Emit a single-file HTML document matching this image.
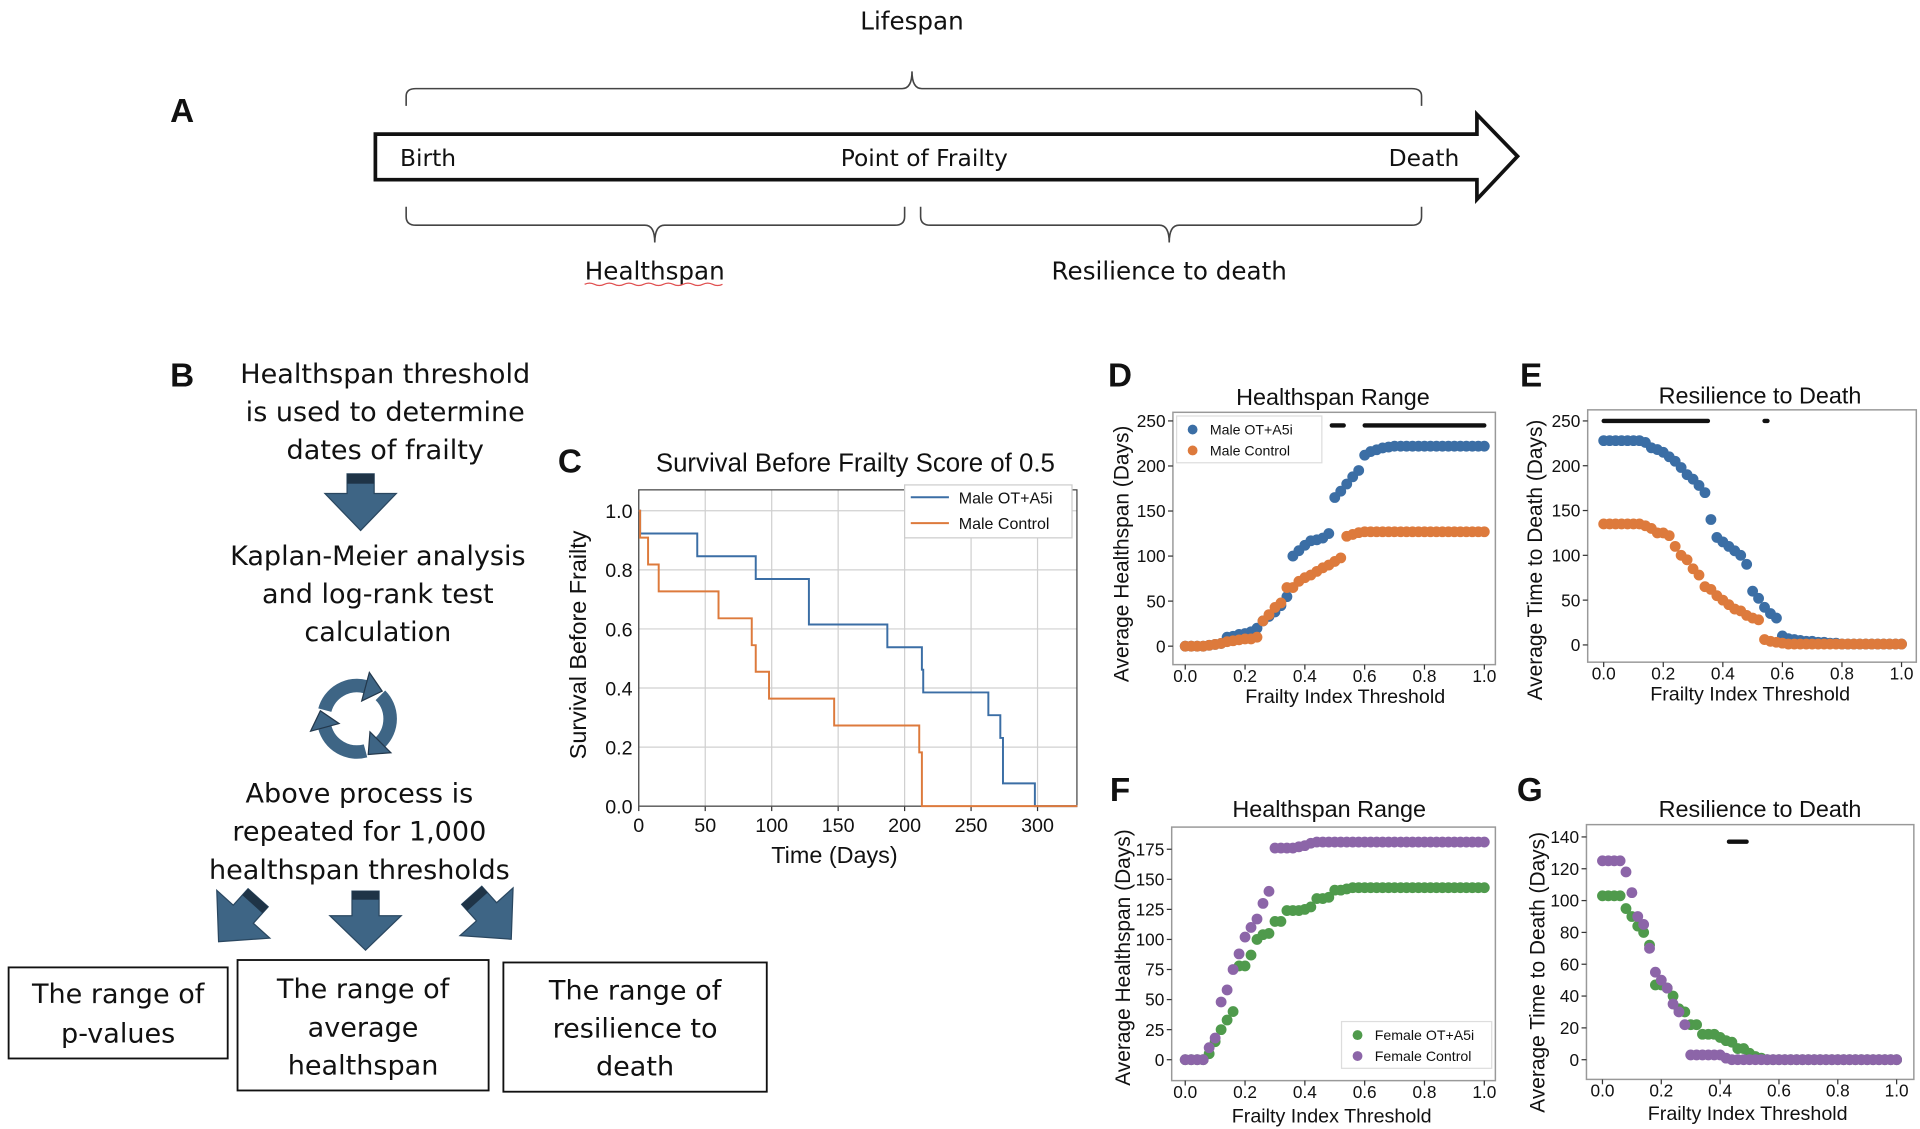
<!DOCTYPE html>
<html><head><meta charset="utf-8"><style>
html,body{margin:0;padding:0;background:#fff;}
svg{display:block;}
text{font-family:"Liberation Sans",sans-serif;fill:#111;}
.ui{font-family:"DejaVu Sans","Liberation Sans",sans-serif;}
</style></head><body>
<svg id="fig" width="1920" height="1129" viewBox="0 0 1560 917.3" preserveAspectRatio="none" xmlns="http://www.w3.org/2000/svg">
<rect width="1560" height="918" fill="#fff"/>
<g>
<text x="148" y="99" font-size="27" font-weight="bold" text-anchor="middle">A</text>
<text x="741" y="24" font-size="20" text-anchor="middle" class="ui">Lifespan</text>
<path d="M330 86 V78 Q330 72 338 72 H733 Q741 72 741 58 Q741 72 749 72 H1147 Q1155 72 1155 78 V86" fill="none" stroke="#444" stroke-width="1.3"/>
<path d="M305 109 H1200 V93 L1233 127 L1200 162 V146 H305 Z" fill="#fff" stroke="#111" stroke-width="3"/>
<text x="325" y="135" font-size="19" class="ui">Birth</text>
<text x="751" y="135" font-size="19" text-anchor="middle" class="ui">Point of Frailty</text>
<text x="1157" y="135" font-size="19" text-anchor="middle" class="ui">Death</text>
<path d="M330 168 V176 Q330 183 338 183 H524 Q532 183 532 197 Q532 183 540 183 H727 Q735 183 735 176 V168" fill="none" stroke="#444" stroke-width="1.3"/>
<path d="M748 168 V176 Q748 183 756 183 H942 Q950 183 950 197 Q950 183 958 183 H1147 Q1155 183 1155 176 V168" fill="none" stroke="#444" stroke-width="1.3"/>
<text x="532" y="227" font-size="20" text-anchor="middle" class="ui">Healthspan</text>
<text x="950" y="227" font-size="20" text-anchor="middle" class="ui">Resilience to death</text>
<path d="M475 231 q4 -2 8 0 t8 0 t8 0 t8 0 t8 0 t8 0 t8 0 t8 0 t8 0 t8 0 t8 0 t8 0 t8 0 t8 0" fill="none" stroke="#e05050" stroke-width="1"/>
</g>
<g class="ui">
<text x="148" y="314" font-size="27" font-weight="bold" text-anchor="middle" font-family="Liberation Sans">B</text>
<g font-size="22" text-anchor="middle">
<text x="313" y="311" class="ui">Healthspan threshold</text>
<text x="313" y="342" class="ui">is used to determine</text>
<text x="313" y="373" class="ui">dates of frailty</text></g>
<g><path d="M282 385 H304 V401 H322 L293 431 L264 401 H282 Z" fill="#3e6585" stroke="#2a4760"/><rect x="282" y="385" width="22" height="8" fill="#1f3447"/></g>
<g font-size="22" text-anchor="middle">
<text x="307" y="459" class="ui">Kaplan-Meier analysis</text>
<text x="307" y="490" class="ui">and log-rank test</text>
<text x="307" y="521" class="ui">calculation</text></g>
<g id="cycle"></g>
<g font-size="22" text-anchor="middle">
<text x="292" y="652" class="ui">Above process is</text>
<text x="292" y="683" class="ui">repeated for 1,000</text>
<text x="292" y="714" class="ui">healthspan thresholds</text></g>
<g transform="rotate(42 193 748)"><path d="M182 723 H204 V741 H222 L193 771 L164 741 H182 Z" fill="#3e6585" stroke="#2a4760"/><rect x="182" y="723" width="22" height="7" fill="#1f3447"/></g>
<g><path d="M286 724 H308 V744 H326 L297 772 L268 744 H286 Z" fill="#3e6585" stroke="#2a4760"/><rect x="286" y="724" width="22" height="7" fill="#1f3447"/></g>
<g transform="rotate(-42 400 746)"><path d="M389 721 H411 V739 H429 L400 769 L371 739 H389 Z" fill="#3e6585" stroke="#2a4760"/><rect x="389" y="721" width="22" height="7" fill="#1f3447"/></g>
<g><rect x="7" y="786" width="178" height="74" fill="#fff" stroke="#111" stroke-width="1.5"/>
<text x="96" y="815" font-size="22" text-anchor="middle" class="ui">The range of</text><text x="96" y="847" font-size="22" text-anchor="middle" class="ui">p-values</text></g>
<g><rect x="193" y="780" width="204" height="106" fill="#fff" stroke="#111" stroke-width="1.5"/>
<text x="295" y="811" font-size="22" text-anchor="middle" class="ui">The range of</text><text x="295" y="842" font-size="22" text-anchor="middle" class="ui">average</text><text x="295" y="873" font-size="22" text-anchor="middle" class="ui">healthspan</text></g>
<g><rect x="409" y="782" width="214" height="105" fill="#fff" stroke="#111" stroke-width="1.5"/>
<text x="516" y="812" font-size="22" text-anchor="middle" class="ui">The range of</text><text x="516" y="843" font-size="22" text-anchor="middle" class="ui">resilience to</text><text x="516" y="874" font-size="22" text-anchor="middle" class="ui">death</text></g>
</g>
<g id="charts"></g>
</svg>
<script>
const kmTicksX = [0, 50, 100, 150, 200, 250, 300];
const kmTicksY = [0.0, 0.2, 0.4, 0.6, 0.8, 1.0];
const kmTreatTimes = [0, 1, 44, 88, 128, 187, 213, 214, 263, 272, 274, 298, 330];
const kmTreatSurv  = [1.0, 0.923, 0.846, 0.769, 0.615, 0.538, 0.462, 0.385, 0.308, 0.231, 0.077, 0.0, 0.0];
const kmCtrlTimes = [0, 1, 7, 15, 60, 85, 88, 98, 147, 211, 213, 330];
const kmCtrlSurv  = [1.0, 0.909, 0.818, 0.727, 0.636, 0.545, 0.455, 0.364, 0.273, 0.182, 0.0, 0.0];

const thresholds = [0,0.02,0.04,0.06,0.08,0.1,0.12,0.14,0.16,0.18,0.2,0.22,0.24,0.26,0.28,0.3,0.32,0.34,0.36,0.38,0.4,0.42,0.44,0.46,0.48,0.5,0.52,0.54,0.56,0.58,0.6,0.62,0.64,0.66,0.68,0.7,0.72,0.74,0.76,0.78,0.8,0.82,0.84,0.86,0.88,0.9,0.92,0.94,0.96,0.98,1.0];
const dMaleTreat = [0,0,0,0,1,2,3,10,11,13,14,16,20,28,33,38,45,55,100,106,112,117,118,120,125,165,172,180,188,195,212,216,218,220,221,222,222,222,222,222,222,222,222,222,222,222,222,222,222,222,222];
const dMaleCtrl  = [0,0,0,0,1,2,3,5,6,7,8,8,10,28,35,43,48,65,65,72,76,79,83,87,90,94,98,122,124,126,127,127,127,127,127,127,127,127,127,127,127,127,127,127,127,127,127,127,127,127,127];
const dSigRanges = [[0.49,0.53],[0.6,1.0]];
const eMaleTreat = [228,228,228,228,228,228,228,226,220,218,215,210,205,198,190,185,178,170,140,120,115,110,105,100,90,60,52,42,35,30,10,7,6,5,4,4,3,3,2,2,1,1,1,1,1,1,1,1,1,1,1];
const eMaleCtrl  = [135,135,135,135,135,135,135,133,130,125,125,122,110,100,95,85,78,65,62,55,50,45,40,38,33,30,28,6,4,3,2,1,1,1,1,1,1,1,1,1,1,1,1,1,1,1,1,1,1,1,1];
const eSigRanges = [[0.0,0.35],[0.54,0.55]];
const fFemTreat = [0,0,0,0,5,15,25,33,40,78,78,87,100,104,105,115,115,124,124,124,125,127,134,134,135,141,141,142,143,143,143,143,143,143,143,143,143,143,143,143,143,143,143,143,143,143,143,143,143,143,143];
const fFemCtrl  = [0,0,0,0,10,18,48,58,75,88,102,110,117,130,140,176,176,176,176,177,178,180,181,181,181,181,181,181,181,181,181,181,181,181,181,181,181,181,181,181,181,181,181,181,181,181,181,181,181,181,181];
const fSigRanges = [];
const gFemTreat = [103,103,103,103,95,90,84,80,72,47,47,45,40,32,30,22,22,16,16,16,14,12,11,7,7,4,2,1,0,0,0,0,0,0,0,0,0,0,0,0,0,0,0,0,0,0,0,0,0,0,0];
const gFemCtrl  = [125,125,125,125,118,105,90,85,70,55,50,45,35,30,22,3,3,3,3,3,3,1,0,0,0,0,0,0,0,0,0,0,0,0,0,0,0,0,0,0,0,0,0,0,0,0,0,0,0,0,0];
const gSigRanges = [[0.43,0.49]];
const xTicks = [0.0,0.2,0.4,0.6,0.8,1.0];
const yTicks250 = [0,50,100,150,200,250];
const yTicks175 = [0,25,50,75,100,125,150,175];
const yTicks140 = [0,20,40,60,80,100,120,140];

const NS = 'http://www.w3.org/2000/svg';
const root = document.getElementById('charts');
function mk(tag, attrs, parent, txt){
  const e = document.createElementNS(NS, tag);
  for (const k in attrs) e.setAttribute(k, attrs[k]);
  if (txt !== undefined) e.textContent = txt;
  (parent || root).appendChild(e);
  return e;
}
const BLUE='#3b6ea5', ORANGE='#dd7a3c', GREEN='#4f9a4c', PURPLE='#8c65a8';

(function(){
  const cg = document.getElementById('cycle');
  const cx=290, cy=584, r=27;
  const arcs = [[195,285],[315,45],[75,165]];
  const rad = a => a*Math.PI/180;
  arcs.forEach(a => {
    const x1=cx+r*Math.cos(rad(a[0])), y1=cy+r*Math.sin(rad(a[0]));
    const x2=cx+r*Math.cos(rad(a[1])), y2=cy+r*Math.sin(rad(a[1]));
    const p = mk('path', {d:'M'+x1+' '+y1+' A'+r+' '+r+' 0 0 1 '+x2+' '+y2, fill:'none', stroke:'#3e6585', 'stroke-width':11}, cg);
    
    
    const t = rad(a[1]);
    const tx=-Math.sin(t), ty=Math.cos(t), nx=Math.cos(t), ny=Math.sin(t);
    const tip = [x2+14*tx, y2+14*ty];
    const b1 = [x2+12*nx, y2+12*ny], b2=[x2-12*nx, y2-12*ny];
    const h = mk('path', {d:'M'+tip.join(' ')+' L'+b1.join(' ')+' L'+b2.join(' ')+' Z', fill:'#3e6585', stroke:'#23384c', 'stroke-width':1}, cg);
    
    
  });
})();

(function(){
  const g = mk('g', {});
  
  
  const L=519, R=875, T=398, B=655;
  const sx = d => L + d * (843 - 519) / 300;
  const sy = v => B - v * (B - 415);
  const lab = mk('text', {x:463, y:384, 'font-size':27, 'font-weight':'bold', 'text-anchor':'middle'}, g, 'C');
  
  
  const t = mk('text', {x:695, y:383, 'font-size':21, 'text-anchor':'middle'}, g, 'Survival Before Frailty Score of 0.5');
  
  
  kmTicksX.forEach(v => {
    const ln = mk('line', {x1:sx(v), x2:sx(v), y1:T, y2:B, stroke:'#d0d0d0', 'stroke-width':1}, g);
    
    
    const tx = mk('text', {x:sx(v), y:B+21, 'font-size':16, 'text-anchor':'middle'}, g, String(v));
    
    
    mk('line', {x1:sx(v), x2:sx(v), y1:B, y2:B+4, stroke:'#333'}, g);
  });
  kmTicksY.forEach(v => {
    const ln = mk('line', {x1:L, x2:R, y1:sy(v), y2:sy(v), stroke:'#d0d0d0', 'stroke-width':1}, g);
    
    
    const tx = mk('text', {x:L-5, y:sy(v)+6, 'font-size':16, 'text-anchor':'end'}, g, v.toFixed(1));
    
    
  });
  const fr = mk('rect', {x:L, y:T, width:R-L, height:B-T, fill:'none', stroke:'#444', 'stroke-width':1}, g);
  
  
  function stepPath(ts, ss){
    let d = 'M' + sx(ts[0]) + ' ' + sy(ss[0]);
    for (let i=1;i<ts.length;i++){ d += ' H' + sx(ts[i]) + ' V' + sy(ss[i]); }
    return d;
  }
  const p1 = mk('path', {d:stepPath(kmTreatTimes, kmTreatSurv), fill:'none', stroke:BLUE, 'stroke-width':1.6}, g);
  
  
  const p2 = mk('path', {d:stepPath(kmCtrlTimes, kmCtrlSurv), fill:'none', stroke:ORANGE, 'stroke-width':1.6}, g);
  
  
  const lg = mk('g', {}, g);
  
  
  mk('rect', {x:735, y:394, width:136, height:43, fill:'#fff', stroke:'#ccc'}, lg);
  mk('line', {x1:740, x2:771, y1:404, y2:404, stroke:BLUE, 'stroke-width':1.6}, lg);
  mk('line', {x1:740, x2:771, y1:425, y2:425, stroke:ORANGE, 'stroke-width':1.6}, lg);
  mk('text', {x:779, y:409, 'font-size':13}, lg, 'Male OT+A5i');
  mk('text', {x:779, y:430, 'font-size':13}, lg, 'Male Control');
  const xl = mk('text', {x:678, y:701, 'font-size':19, 'text-anchor':'middle'}, g, 'Time (Days)');
  
  
  const yl = mk('text', {x:0, y:0, 'font-size':19, 'text-anchor':'middle', transform:'translate(476 524) rotate(-90)'}, g, 'Survival Before Frailty');
  
  
})();

function scatter(cfg){
  const g = mk('g', {});
  
  
  const sx = v => cfg.x0 + v * (cfg.x1 - cfg.x0);
  const sy = v => cfg.y0 - v * (cfg.y0 - cfg.yTop) / cfg.yTopVal;
  const lab = mk('text', {x:cfg.lx, y:cfg.ly, 'font-size':27, 'font-weight':'bold', 'text-anchor':'middle'}, g, cfg.letter);
  
  
  const t = mk('text', {x:cfg.tx, y:cfg.ty, 'font-size':19, 'text-anchor':'middle'}, g, cfg.title);
  
  
  const fr = mk('rect', {x:cfg.L, y:cfg.T, width:cfg.R-cfg.L, height:cfg.B-cfg.T, fill:'none', stroke:'#999', 'stroke-width':1.2}, g);
  
  
  xTicks.forEach(v => {
    mk('line', {x1:sx(v), x2:sx(v), y1:cfg.B, y2:cfg.B+4, stroke:'#333'}, g);
    const tx = mk('text', {x:sx(v), y:cfg.B+14, 'font-size':14, 'text-anchor':'middle'}, g, v.toFixed(1));
    
    
  });
  cfg.yTicks.forEach(v => {
    mk('line', {x1:cfg.L-4, x2:cfg.L, y1:sy(v), y2:sy(v), stroke:'#333'}, g);
    const tx = mk('text', {x:cfg.L-6, y:sy(v)+5, 'font-size':14, 'text-anchor':'end'}, g, String(v));
    
    
  });
  cfg.series.forEach(s => {
    const sg = mk('g', {fill:s.color}, g);
    
    
    s.values.forEach((v, i) => {
      const c = mk('circle', {cx:sx(thresholds[i]), cy:sy(v), r:4.4}, sg);
      
      
    });
  });
  cfg.sig.forEach(r => {
    const b = mk('line', {x1:sx(r[0]), x2:sx(r[1]), y1:sy(cfg.sigY), y2:sy(cfg.sigY), stroke:'#111', 'stroke-width':3.5, 'stroke-linecap':'round'}, g);
    
    
  });
  const lg = mk('g', {}, g);
  
  
  mk('rect', {x:cfg.legX, y:cfg.legY, width:cfg.legW, height:38, fill:'#fff', stroke:'#ddd'}, lg);
  cfg.series.forEach((s, i) => {
    mk('circle', {cx:cfg.legX+13, cy:cfg.legY+11+i*17, r:4, fill:s.color}, lg);
    mk('text', {x:cfg.legX+27, y:cfg.legY+15+i*17, 'font-size':11.5}, lg, s.label);
  });
  const xl = mk('text', {x:cfg.xlx, y:cfg.xly, 'font-size':16, 'text-anchor':'middle'}, g, 'Frailty Index Threshold');
  
  
  const yl = mk('text', {x:0, y:0, 'font-size':17, 'text-anchor':'middle', transform:'translate(' + cfg.ylx + ' ' + cfg.yly + ') rotate(-90)'}, g, cfg.ytitle);
  
  
}
scatter({name:'panel-d-healthspan-male', letter:'D', lx:910, ly:314, title:'Healthspan Range', tx:1083, ty:329,
  L:953, R:1215, T:335, B:540, x0:963, x1:1206, y0:525, yTop:342, yTopVal:250, yTicks:yTicks250,
  series:[{name:'series-male-ot-a5i', label:'Male OT+A5i', color:BLUE, values:dMaleTreat},{name:'series-male-control', label:'Male Control', color:ORANGE, values:dMaleCtrl}],
  sig:dSigRanges, sigY:245, legX:956, legY:338, legW:118, xlx:1093, xly:571, ylx:917, yly:450, ytitle:'Average Healthspan (Days)'});
scatter({name:'panel-e-resilience-male', letter:'E', lx:1244, ly:314, title:'Resilience to Death', tx:1430, ty:328,
  L:1290, R:1557, T:333, B:538, x0:1303, x1:1545, y0:524, yTop:342, yTopVal:250, yTicks:yTicks250,
  series:[{name:'series-male-ot-a5i', label:'', color:BLUE, values:eMaleTreat},{name:'series-male-control', label:'', color:ORANGE, values:eMaleCtrl}],
  sig:eSigRanges, sigY:250, legX:-500, legY:-500, legW:1, xlx:1422, xly:569, ylx:1253, yly:455, ytitle:'Average Time to Death (Days)'});
scatter({name:'panel-f-healthspan-female', letter:'F', lx:910, ly:651, title:'Healthspan Range', tx:1080, ty:664,
  L:952, R:1215, T:672, B:878, x0:963, x1:1206, y0:861, yTop:690, yTopVal:175, yTicks:yTicks175,
  series:[{name:'series-female-ot-a5i', label:'Female OT+A5i', color:GREEN, values:fFemTreat},{name:'series-female-control', label:'Female Control', color:PURPLE, values:fFemCtrl}],
  sig:fSigRanges, sigY:0, legX:1090, legY:830, legW:122, xlx:1082, xly:912, ylx:918, yly:778, ytitle:'Average Healthspan (Days)'});
scatter({name:'panel-g-resilience-female', letter:'G', lx:1243, ly:651, title:'Resilience to Death', tx:1430, ty:664,
  L:1289, R:1555, T:670, B:877, x0:1302, x1:1541, y0:861, yTop:680, yTopVal:140, yTicks:yTicks140,
  series:[{name:'series-female-ot-a5i', label:'', color:GREEN, values:gFemTreat},{name:'series-female-control', label:'', color:PURPLE, values:gFemCtrl}],
  sig:gSigRanges, sigY:137, legX:-500, legY:-500, legW:1, xlx:1420, xly:910, ylx:1255, yly:790, ytitle:'Average Time to Death (Days)'});
</script>
</body></html>
